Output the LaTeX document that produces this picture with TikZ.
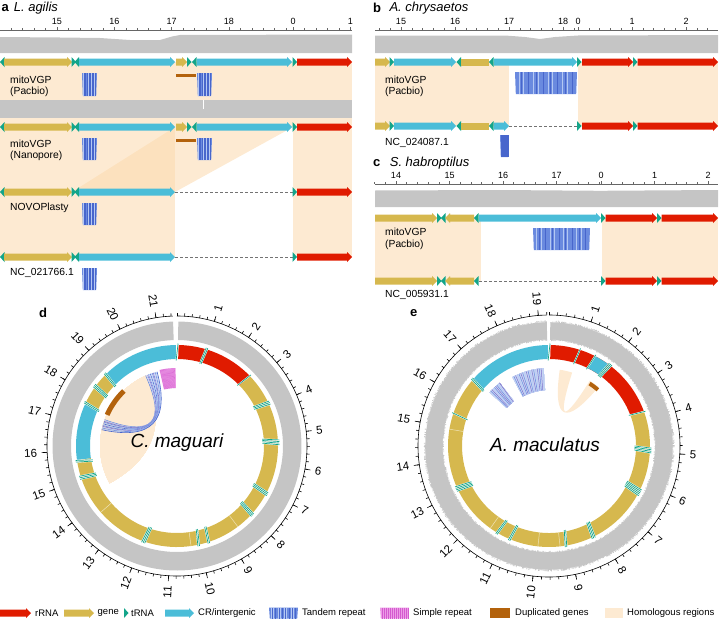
\documentclass[tikz,border=0pt]{standalone}
\usepackage{fontspec}
\setmainfont{Liberation Sans}
\usetikzlibrary{positioning}
\definecolor{rrnaRed}{HTML}{E01B00}
\definecolor{geneGold}{HTML}{D6B84E}
\definecolor{trnaTeal}{HTML}{13A58A}
\definecolor{crBlue}{HTML}{4BBDD8}
\definecolor{tandemBlue}{HTML}{6A8ADF}
\definecolor{tandemLight}{HTML}{B4C8F3}
\definecolor{tandemDark}{HTML}{4866CC}
\definecolor{tandemPurple}{HTML}{7E72CC}
\definecolor{tandemPale}{HTML}{C8D5F3}
\definecolor{simplePink}{HTML}{EC9BE6}
\definecolor{simpleDark}{HTML}{D45ACF}
\definecolor{dupBrown}{HTML}{B3620C}
\definecolor{homolBase}{HTML}{FBD9AD}
\definecolor{homolPeach}{HTML}{FDEAD2}
\definecolor{covGray}{HTML}{C5C5C5}

% linear features: x from, x to, y, colour
\newcommand{\geneR}[4]{%
  \fill[#4] (#1,#3-3.5) -- (#2-5,#3-3.5) -- (#2-5,#3-5) -- (#2,#3)
    -- (#2-5,#3+5) -- (#2-5,#3+3.5) -- (#1,#3+3.5) -- cycle;}
\newcommand{\geneL}[4]{%
  \fill[#4] (#2,#3-3.5) -- (#1+5,#3-3.5) -- (#1+5,#3-5) -- (#1,#3)
    -- (#1+5,#3+5) -- (#1+5,#3+3.5) -- (#2,#3+3.5) -- cycle;}
\newcommand{\geneBox}[4]{\fill[#4] (#1,#3-3.5) rectangle (#2,#3+3.5);}
\newcommand{\trnaR}[2]{\fill[trnaTeal] (#1,#2-5) -- (#1+4.5,#2) -- (#1,#2+5) -- cycle;}
\newcommand{\trnaL}[2]{\fill[trnaTeal] (#1+4.5,#2-5) -- (#1,#2) -- (#1+4.5,#2+5) -- cycle;}
% tandem repeat block: x from, x to, y top, y bottom
\newcommand{\tandemBlock}[4]{%
  \fill[tandemBlue] (#1,#3) -- (#2,#3) -- (#2-0.8,#4) -- (#1+0.8,#4) -- cycle;
  \foreach \ff in {0.05,0.13,...,0.96}
    \draw[tandemLight, line width=0.35pt] ({#1+0.8+\ff*(#2-#1-1.6)},#3) -- ({#1+0.8+\ff*(#2-#1-1.6)},#4);
  \foreach \ff in {0.09,0.21,...,0.96}
    \draw[tandemDark, line width=0.35pt] ({#1+0.8+\ff*(#2-#1-1.6)},#3) -- ({#1+0.8+\ff*(#2-#1-1.6)},#4);}
% circular tracks: angle from, angle to, r inner, r outer, colour
\newcommand{\arcband}[5]{%
  \fill[#5] (#1:#3) arc[start angle=#1, end angle=#2, radius=#3]
    -- (#2:#4) arc[start angle=#2, end angle=#1, radius=#4] -- cycle;}
\newcommand{\trnaStack}[2]{%
  \foreach \q in {1,...,#2} {
    \draw[white, line width=1.5pt] ({#1+(\q-1)*0.9-0.6}:85.5) -- ({#1+(\q-1)*0.9+0.6}:102.5);
    \draw[trnaTeal, line width=0.7pt] ({#1+(\q-1)*0.9-0.6}:85.5) -- ({#1+(\q-1)*0.9+0.6}:102.5);
  }}

\begin{document}
\begin{tikzpicture}[
  x=1pt, y=-1pt,
  homol/.style={fill=homolBase, fill opacity=0.55},
  missing/.style={black!55, densely dashed, line width=0.6pt},
  tracklab/.style={font=\fontsize{10.3}{12}\selectfont, anchor=west, inner sep=0pt},
  rulerlab/.style={font=\fontsize{9}{10}\selectfont, inner sep=0pt},
  rulerline/.style={black!60, line width=0.5pt},
  paneltag/.style={font=\fontsize{13}{14}\selectfont\bfseries, anchor=west, inner sep=0pt},
  species/.style={font=\fontsize{13}{14}\selectfont\itshape, anchor=west, inner sep=0pt},
  kblab/.style={font=\fontsize{11.5}{12}\selectfont, inner sep=0pt},
  axisline/.style={black, line width=0.6pt},
  sepline/.style={white!60!geneGold, line width=0.5pt},
  legtext/.style={font=\fontsize{9.5}{11}\selectfont, anchor=west, inner sep=0pt},
]
\useasboundingbox (0,0) rectangle (720,621);

% ===================== a: L. agilis =====================
\node[paneltag] (tagA) at (1.5,8) {a};
\node[species, right=4.5pt of tagA] (spA) {L. agilis};

% --- ruler ---
\draw[rulerline] (0,30) -- (352,30);
\foreach \i in {-4,...,20} \draw[rulerline] ({57+\i*11.46},30) -- ++(0,-1.8);
\foreach \i in {0,...,5} \draw[rulerline] ({293+\i*11.46},30) -- ++(0,-1.8);
\foreach \lab/\xx in {15/57,16/114.3,17/171.6,18/228.9,0/293,1/350.3} {
  \draw[rulerline] (\xx,30) -- ++(0,-3);
  \node[rulerlab] (rA\lab) at (\xx,21) {\lab};
}

% --- homologous regions ---
\fill[homol] (0,62) rectangle (352,127);
\fill[homol] (0,127) rectangle (175,192);
\fill[homol] (175,127) -- (293,127) -- (175,192) -- (72,192) -- cycle;
\fill[homol] (293,127) rectangle (352,257);
\fill[homol] (0,192) rectangle (175,257);

% --- coverage ---
\fill[covGray] (0,53) -- (0,37) -- (60,37.5) -- (100,38) -- (130,40) -- (160,40)
  -- (172,36.5) -- (180,35) -- (352,34.5) -- (352,53) -- cycle;
\fill[covGray] (0,99.5) rectangle (352,118);
\draw[white, line width=0.6pt] (203,99.5) -- (203,109);

% --- mitoVGP tracks ---
\foreach \yy in {62,127} {
  \trnaL{0}{\yy}
  \geneR{4}{72}{\yy}{geneGold}
  \trnaR{71.5}{\yy} \trnaL{74.5}{\yy}
  \geneR{79}{175}{\yy}{crBlue}
  \geneR{176}{187}{\yy}{geneGold}
  \trnaR{187}{\yy} \trnaL{192}{\yy}
  \geneR{197}{292}{\yy}{crBlue}
  \trnaR{292.5}{\yy}
  \geneR{297}{352}{\yy}{rrnaRed}
}
% --- NOVOPlasty and reference ---
\foreach \yy in {192,257} {
  \trnaL{0}{\yy}
  \geneR{4}{72}{\yy}{geneGold}
  \trnaR{71.5}{\yy} \trnaL{74.5}{\yy}
  \geneR{79}{175}{\yy}{crBlue}
  \draw[missing] (175,\yy) -- (292.5,\yy);
  \trnaR{292.5}{\yy}
  \geneR{297}{352}{\yy}{rrnaRed}
}

% --- repeats and duplications ---
\tandemBlock{82}{97}{73}{96}
\tandemBlock{197}{212}{73}{96}
\fill[dupBrown] (176,74) rectangle (196,77);
\tandemBlock{82}{97}{138}{160}
\tandemBlock{197}{212}{138}{160}
\fill[dupBrown] (176,139) rectangle (196,142);
\tandemBlock{82}{97}{203}{225}
\tandemBlock{82}{97}{268}{290}

\node[tracklab] (aPac1) at (10,80) {mitoVGP};
\node[tracklab] (aPac2) at (10,91.5) {(Pacbio)};
\node[tracklab] (aNan1) at (10,144) {mitoVGP};
\node[tracklab] (aNan2) at (10,155.5) {(Nanopore)};
\node[tracklab] (aNovo) at (10,208) {NOVOPlasty};
\node[tracklab] (aRef) at (10,272.5) {NC\_021766.1};

% ===================== b: A. chrysaetos =====================
\node[paneltag] (tagB) at (373,8) {b};
\node[species, right=8pt of tagB] (spB) {A. chrysaetos};

\draw[rulerline] (375,30) -- (718,30);
\foreach \i in {-2,...,16} \draw[rulerline] ({401+\i*10.8},30) -- ++(0,-1.8);
\foreach \i in {0,...,12} \draw[rulerline] ({578+\i*10.8},30) -- ++(0,-1.8);
\foreach \lab/\xx in {15/401,16/455,17/509,18/563,0/578,1/632,2/686} {
  \draw[rulerline] (\xx,30) -- ++(0,-3);
  \node[rulerlab] (rB\lab) at (\xx,21) {\lab};
}

\fill[homol] (375,62) rectangle (509,126);
\fill[homol] (578,62) rectangle (718,126);

\fill[covGray] (375,53) -- (375,35.5) -- (505,35.5) -- (525,37) -- (540,39) -- (555,37)
  -- (578,35.5) -- (718,35) -- (718,53) -- cycle;

\foreach \yy in {62,126} {
  \geneR{375}{390}{\yy}{geneGold}
  \trnaR{389.5}{\yy}
  \geneR{394}{456}{\yy}{crBlue}
  \trnaL{456.5}{\yy}
  \geneBox{461}{489}{\yy}{geneGold}
  \trnaL{489}{\yy}
  \trnaR{577}{\yy}
  \geneR{582}{633}{\yy}{rrnaRed}
  \trnaR{633}{\yy}
  \geneR{637.5}{718}{\yy}{rrnaRed}
}
\geneR{494}{577}{62}{crBlue}
\geneR{494}{509}{126}{crBlue}
\draw[missing] (509,126) -- (577,126);

\tandemBlock{515}{577}{72}{94}
\tandemBlock{500}{509}{135}{157}

\node[tracklab] (bPac1) at (385,80) {mitoVGP};
\node[tracklab] (bPac2) at (385,91.5) {(Pacbio)};
\node[tracklab] (bRef) at (385,143) {NC\_024087.1};

% ===================== c: S. habroptilus =====================
\node[paneltag] (tagC) at (373,163) {c};
\node[species, right=9pt of tagC] (spC) {S. habroptilus};

\draw[rulerline] (375,184) -- (718,184);
\foreach \i in {-2,...,19} \draw[rulerline] ({396+\i*10.7},184) -- ++(0,-1.8);
\foreach \i in {0,...,10} \draw[rulerline] ({601+\i*10.7},184) -- ++(0,-1.8);
\foreach \lab/\xx in {14/396,15/449.5,16/503,17/556.5,0/601,1/654.5,2/708} {
  \draw[rulerline] (\xx,184) -- ++(0,-3);
  \node[rulerlab] (rC\lab) at (\xx,175.5) {\lab};
}

\fill[homol] (375,218) rectangle (481,281);
\fill[homol] (602,218) rectangle (718,281);

\fill[covGray] (375,207) -- (375,190.5) -- (500,190) -- (600,190.8) -- (718,190) -- (718,207) -- cycle;

\foreach \yy in {218,281} {
  \geneR{375}{437}{\yy}{geneGold}
  \trnaR{437}{\yy} \trnaL{441}{\yy}
  \geneL{445}{474}{\yy}{geneGold}
  \trnaL{474}{\yy}
  \trnaR{601}{\yy}
  \geneR{605.5}{657}{\yy}{rrnaRed}
  \trnaR{657}{\yy}
  \geneR{661.5}{718}{\yy}{rrnaRed}
}
\geneR{479}{601}{218}{crBlue}
\draw[missing] (479,281) -- (601,281);

\tandemBlock{533}{590}{228}{250}

\node[tracklab] (cPac1) at (385,232) {mitoVGP};
\node[tracklab] (cPac2) at (385,245) {(Pacbio)};
\node[tracklab] (cRef) at (385,295) {NC\_005931.1};

% ===================== d: C. maguari =====================
\node[paneltag] (tagD) at (39,313) {d};
\begin{scope}[shift={(177,446)}, rotate=90]
  % coverage
  \arcband{0.6}{358.2}{106}{124.5}{covGray}
  % axis
  \draw[axisline] (0:130) arc[start angle=0, end angle=358.2, radius=130];
  \foreach \k in {0,...,107} \draw[axisline] ({\k*3.34}:130) -- ({\k*3.34}:132.8);
  \foreach \k in {1,...,10} {
    \draw[axisline] ({\k*16.7}:130) -- ({\k*16.7}:135.5);
    \node[kblab, anchor=west, rotate=90-\k*16.7] (dk\k) at ({\k*16.7}:140) {\k};
  }
  \foreach \k in {11,...,21} {
    \draw[axisline] ({\k*16.7}:130) -- ({\k*16.7}:135.5);
    \node[kblab, anchor=east, rotate=270-\k*16.7] (dk\k) at ({\k*16.7}:140) {\k};
  }
  % genes
  \arcband{0.8}{46}{87}{101}{rrnaRed}
  \arcband{46}{262}{87}{101}{geneGold}
  \arcband{262}{294.5}{87}{101}{crBlue}
  \arcband{294.5}{314.5}{87}{101}{geneGold}
  \arcband{314.5}{359.4}{87}{101}{crBlue}
  \foreach \ang in {143,172,229} \draw[sepline] (\ang:87) -- (\ang:101);
  \foreach \ang/\n in {0/1,16/2,45.5/1,63.4/3,86/4,116.6/3,131/3,160.8/2,166.7/2,
                       197.8/3,250.4/3,260.4/2,294.3/2,304.7/3,314.2/2}
    \trnaStack{\ang}{\n}
  % homologous region, duplication, repeats
  \fill[homolPeach] (241:77) arc[start angle=241, end angle=336, radius=77]
    .. controls (336:25.7) and (241:25.7) .. (241:77) -- cycle;
  \arcband{294}{316}{74}{79}{dupBrown}
  \foreach \i/\cc in {0/tandemBlue,1/tandemLight,2/tandemPurple,3/tandemBlue,4/tandemLight,
                      5/tandemDark,6/tandemLight,7/tandemBlue,8/tandemPurple,9/tandemLight,
                      10/tandemBlue,11/tandemLight,12/tandemDark}
    \draw[\cc, line width=0.6pt] ({336+0.75*\i}:77)
      .. controls ({336+0.75*\i}:25.7) and ({290-0.65*\i}:25.7) .. ({290-0.65*\i}:77);
  \arcband{347}{359}{58}{78}{simplePink}
  \foreach \ang in {347.6,348.4,...,358.6} \draw[simpleDark, line width=0.3pt] (\ang:58) -- (\ang:78);
\end{scope}
\node[font=\fontsize{19}{20}\selectfont\itshape] (nameD) at (177,443) {C. maguari};

% ===================== e: A. maculatus =====================
\node[paneltag] (tagE) at (410,313) {e};
\begin{scope}[shift={(549,446)}, rotate=90]
  \arcband{0.6}{359}{106.5}{123.5}{covGray}
  \foreach \ang in {0.8,1.3,...,358.8} {
    \draw[covGray, line width=0.8pt] (\ang:123) -- (\ang:{123.5+2.2*rnd});
    \draw[covGray, line width=0.8pt] (\ang:107) -- (\ang:{106.5-1.6*rnd});
  }
  \draw[axisline] (0:131) arc[start angle=0, end angle=359, radius=131];
  \foreach \k in {0,...,96} \draw[axisline] ({\k*3.74}:131) -- ({\k*3.74}:133.8);
  \foreach \k in {1,...,9} {
    \draw[axisline] ({\k*18.7}:131) -- ({\k*18.7}:136.5);
    \node[kblab, anchor=west, rotate=90-\k*18.7] (ek\k) at ({\k*18.7}:141) {\k};
  }
  \foreach \k in {10,...,19} {
    \draw[axisline] ({\k*18.7}:131) -- ({\k*18.7}:136.5);
    \node[kblab, anchor=east, rotate=270-\k*18.7] (ek\k) at ({\k*18.7}:141) {\k};
  }
  \arcband{0.8}{69.6}{87}{101}{rrnaRed}
  \arcband{26.6}{35.5}{87}{101}{crBlue}
  \arcband{69.6}{310.3}{87}{101}{geneGold}
  \arcband{310.3}{359.4}{87}{101}{crBlue}
  \foreach \ang in {173.7,186.3,215.5,279.6} \draw[sepline] (\ang:87) -- (\ang:101);
  \foreach \ang/\n in {0/1,17.3/1,26.6/1,35.5/3,69.6/1,90.6/4,114.8/5,152.6/3,169.4/2,
                       201.9/2,209.8/2,243.2/4,288.4/1,310.2/2}
    \trnaStack{\ang}{\n}
  % tandem repeats
  \arcband{312}{322}{57}{80}{tandemPale}
  \arcband{332}{356}{56}{78}{tandemPale}
  \foreach \ang/\cc in {312.6/tandemBlue,313.8/tandemPurple,315/tandemLight,316.2/tandemBlue,
                        317.4/tandemPurple,318.6/tandemBlue,319.8/tandemLight,321/tandemPurple}
    \draw[\cc, line width=0.5pt] (\ang:57) -- ({\ang+0.8}:80);
  \foreach \ang/\cc in {332.6/tandemBlue,334/tandemPurple,335.4/tandemLight,336.8/tandemBlue,
                        338.2/tandemPurple,339.6/tandemBlue,341/tandemLight,342.4/tandemPurple,
                        343.8/tandemBlue,345.2/tandemLight,346.6/tandemPurple,348/tandemBlue,
                        349.4/tandemLight,350.8/tandemPurple,352.2/tandemBlue,353.6/tandemPurple,
                        355/tandemLight}
    \draw[\cc, line width=0.5pt] (\ang:56) -- ({\ang+0.6}:78);
  % homologous region and duplication
  \fill[homolPeach] (8:77) arc[start angle=8, end angle=17.5, radius=77]
    .. controls (17.5:25.7) and (32:25.7) .. (32:77)
    arc[start angle=32, end angle=40, radius=77]
    .. controls (40:25.7) and (8:25.7) .. (8:77) -- cycle;
  \arcband{33}{41}{72.5}{76.5}{dupBrown}
\end{scope}
\node[font=\fontsize{19}{20}\selectfont\itshape] (nameE) at (545,445) {A. maculatus};

% ===================== legend =====================
\geneR{0}{31}{613}{rrnaRed}
\node[legtext] (lgRrna) at (35,613) {rRNA};
\geneR{64}{94}{613}{geneGold}
\node[legtext] (lgGene) at (97.5,613) {gene};
\trnaR{124}{613}
\node[legtext] (lgTrna) at (131,613) {tRNA};
\geneR{165}{194}{613}{crBlue}
\node[legtext] (lgCr) at (198,613) {CR/intergenic};
\tandemBlock{269}{298}{607.5}{618.5}
\node[legtext] (lgTandem) at (302,613) {Tandem repeat};
\fill[simplePink] (380,607.5) -- (409,607.5) -- (408.2,618.5) -- (380.8,618.5) -- cycle;
\foreach \xx in {382,384,...,408} \draw[simpleDark, line width=0.3pt] (\xx,607.5) -- (\xx,618.5);
\node[legtext] (lgSimple) at (413,613) {Simple repeat};
\fill[dupBrown] (490,608) rectangle (510,618);
\node[legtext] (lgDup) at (515,613) {Duplicated genes};
\fill[homolPeach] (605,608) rectangle (623,618);
\node[legtext] (lgHomol) at (627,613) {Homologous regions};
\end{tikzpicture}
\end{document}
